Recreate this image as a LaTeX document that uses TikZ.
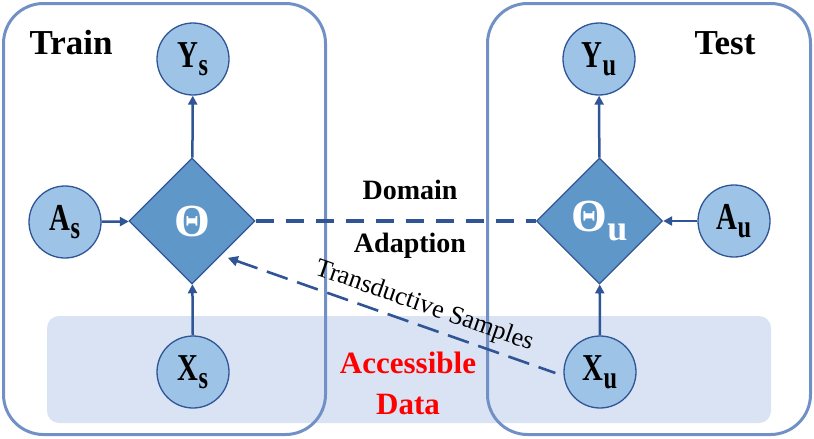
\documentclass[tikz,border=0pt]{standalone}
\usepackage{fontspec}
\setmainfont{Liberation Serif}
\newfontfamily\varfont[FakeStretch=0.76]{Liberation Serif}
\usetikzlibrary{shapes.geometric, arrows.meta, positioning, calc}
\definecolor{nodeblue}{HTML}{9DC3E6}
\definecolor{edgeblue}{HTML}{2F5597}
\definecolor{paramblue}{HTML}{6097C9}
\definecolor{panelcolor}{HTML}{7191C6}
\definecolor{databg}{HTML}{DAE3F3}
\newcommand{\varsub}[2]{#1\raisebox{-8pt}{\fontsize{32}{32}\selectfont #2}}

\begin{document}
\begin{tikzpicture}[x=1pt, y=-1pt,
  var/.style={circle, draw=edgeblue, line width=1.3pt, fill=nodeblue, minimum size=72pt, inner sep=0pt, font=\varfont\fontsize{38}{38}\selectfont\bfseries},
  param/.style={diamond, draw=edgeblue, line width=1.3pt, fill=paramblue, minimum width=126pt, minimum height=126pt, inner sep=0pt, text=white, font=\fontsize{46}{46}\selectfont\bfseries},
  panel/.style={rectangle, draw=panelcolor, line width=3pt, rounded corners=40pt},
  accessbg/.style={rectangle, fill=databg, rounded corners=12pt},
  title/.style={font=\fontsize{35}{35}\selectfont\bfseries},
  midlabel/.style={font=\fontsize{28}{28}\selectfont\bfseries},
  datalabel/.style={font=\fontsize{31}{31}\selectfont\bfseries, text=red},
  arrow/.style={-{Triangle[length=9pt, width=9pt]}, draw=edgeblue, line width=2.5pt},
  domainline/.style={draw=edgeblue, line width=4.5pt, dash pattern=on 18pt off 12pt},
  samplearrow/.style={{Triangle[length=10pt, width=10pt]}-, draw=edgeblue, line width=2.6pt, dash pattern=on 22pt off 10pt}
]
  \useasboundingbox (0,0) rectangle (814,439);

  % Accessible data band
  \node[accessbg, minimum width=724pt, minimum height=107pt] (accbg) at (409,369.5) {};

  % Panels
  \node[panel, minimum width=322pt, minimum height=431pt] (trainbox) at (164.5,219) {};
  \node[panel, minimum width=323pt, minimum height=431pt] (testbox) at (649,219) {};
  \node[title] (train) at (71,43) {Train};
  \node[title] (test) at (725,43) {Test};

  % Train side
  \node[param] (theta) at (192,221) {\raisebox{-4pt}{Θ}};
  \node[var] (ys) at (193,59) {\varsub{Y}{s}};
  \node[var] (as) at (65,222) {\varsub{A}{s}};
  \node[var] (xs) at (193,372) {\varsub{X}{s}};

  % Test side
  \node[param] (thetau) at (599.5,221) {Θ\raisebox{-9pt}{\fontsize{36}{36}\selectfont u}};
  \node[var] (yu) at (599,59) {\varsub{Y}{u}};
  \node[var] (au) at (734,221) {\varsub{A}{u}};
  \node[var] (xu) at (600,372) {\varsub{X}{u}};

  % Labels
  \node[midlabel] (domain) at (410,190) {Domain};
  \node[midlabel] (adaption) at (410,246) {Adaption};
  \node[datalabel] (access) at (408,363) {Accessible};
  \node[datalabel] (data) at (408,404) {Data};

  \draw[arrow] (xs) -- (theta);
  \draw[arrow] (as) -- (theta);
  \draw[arrow] (theta) -- (ys);
  \draw[arrow] (xu) -- (thetau);
  \draw[arrow] (au) -- (thetau);
  \draw[arrow] (thetau) -- (yu);

  \draw[domainline] (theta) -- (thetau);

  \coordinate (sampleend) at ($(theta.south east)+(4,5)$);
  \coordinate (samplestart) at ($(xu.west)+(-8,1)$);
  \draw[samplearrow] (sampleend) -- node[pos=0.58, sloped, above=3pt, font=\fontsize{26}{26}\selectfont] {Transductive Samples} (samplestart);
\end{tikzpicture}
\end{document}
